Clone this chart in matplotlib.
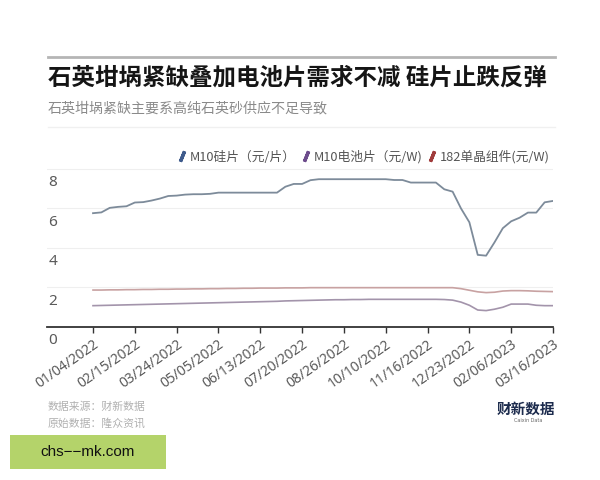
#!/usr/local/bin/python3
# coding: utf-8

#--- モジュールのインポート ---#
import matplotlib
matplotlib.use('Agg')
import matplotlib.pyplot as plt
from matplotlib.lines import Line2D
from matplotlib.patches import Rectangle
import numpy as np

#--- データ (周次, 2022/01/04 - 2023/03/16) ---#
tickLabels = ['01/04/2022', '02/15/2022', '03/24/2022', '05/05/2022', '06/13/2022',
              '07/20/2022', '08/26/2022', '10/10/2022', '11/16/2022', '12/23/2022',
              '02/06/2023', '03/16/2023']

# M10硅片 (元/片)
wafer = [5.76, 5.80, 6.03, 6.08, 6.11, 6.30, 6.32, 6.40, 6.50, 6.63, 6.65, 6.70, 6.72, 6.72,
         6.74, 6.80, 6.80, 6.80, 6.80, 6.80, 6.80, 6.80, 6.80, 7.10, 7.24, 7.24, 7.43, 7.48,
         7.48, 7.48, 7.48, 7.48, 7.48, 7.48, 7.48, 7.48, 7.44, 7.44, 7.31, 7.31, 7.31, 7.31,
         6.97, 6.85, 6.00, 5.30, 3.65, 3.61, 4.28, 5.00, 5.35, 5.53, 5.79, 5.79, 6.31, 6.38]

# M10电池片 (元/W)
cell = [1.08, 1.09, 1.10, 1.11, 1.12, 1.13, 1.14, 1.15, 1.16, 1.17, 1.18, 1.19, 1.20, 1.21,
        1.22, 1.23, 1.24, 1.25, 1.26, 1.27, 1.28, 1.29, 1.30, 1.32, 1.33, 1.34, 1.35, 1.36,
        1.37, 1.38, 1.38, 1.39, 1.39, 1.40, 1.40, 1.40, 1.40, 1.40, 1.40, 1.40, 1.40, 1.40,
        1.39, 1.36, 1.26, 1.10, 0.86, 0.83, 0.90, 1.00, 1.16, 1.16, 1.16, 1.10, 1.08, 1.08]

# 182单晶组件 (元/W)
module = [1.87, 1.87, 1.88, 1.88, 1.89, 1.89, 1.90, 1.90, 1.91, 1.91, 1.92, 1.92, 1.93, 1.93,
          1.94, 1.94, 1.95, 1.95, 1.96, 1.96, 1.97, 1.97, 1.97, 1.98, 1.98, 1.98, 1.99, 1.99,
          1.99, 1.99, 1.99, 1.99, 1.99, 1.99, 1.99, 1.99, 1.99, 1.99, 1.99, 1.99, 1.99, 1.99,
          1.99, 1.99, 1.94, 1.86, 1.78, 1.74, 1.76, 1.82, 1.84, 1.84, 1.83, 1.81, 1.80, 1.79]

seriesNames = ['M10硅片（元/片）', 'M10电池片（元/W)', '182单晶组件(元/W)']
yTicks = [0, 2, 4, 6, 8]


def main():

    #--- rcParams設定 ---#
    plt.rcParams['font.family'] = ['Noto Sans CJK SC', 'DejaVu Sans']
    plt.rcParams['axes.axisbelow'] = True

    fig = plt.figure(figsize=(6, 4.8), dpi=100)
    ax = fig.add_axes([47 / 600, 1 - 327 / 480, 506 / 600, 164 / 480])

    x = np.arange(len(wafer))
    lineColors = ['#7d8b9a', '#a394ab', '#c8a2a2']
    handleColors = ['#3f5b8c', '#6d4c8c', '#a03c3c']

    #--- グラフの描画 ---#
    ax.plot(x, module, color=lineColors[2], linewidth=1.2)
    ax.plot(x, cell, color=lineColors[1], linewidth=1.2)
    ax.plot(x, wafer, color=lineColors[0], linewidth=1.3)

    #--- 軸設定 ---#
    step = (len(wafer) - 1) / (len(tickLabels) - 1)
    tickPos = [i * step for i in range(len(tickLabels))]
    ax.set_xlim(-5.5, len(wafer) - 1)
    ax.set_ylim(0, 8.3)

    for s in ['top', 'right', 'left']:
        ax.spines[s].set_visible(False)
    ax.spines['bottom'].set_color('#333333')
    ax.spines['bottom'].set_linewidth(1.3)

    ax.set_xticks(tickPos)
    ax.set_xticklabels(tickLabels, rotation=35, ha='right', rotation_mode='anchor',
                       fontsize=10, color='#5a5a5a', family=['Noto Sans', 'DejaVu Sans'])
    ax.tick_params(axis='x', direction='out', length=4, width=1, color='#333333', pad=3)

    ax.set_yticks(yTicks)
    ax.set_yticklabels([])
    ax.tick_params(axis='y', length=0)
    ax.grid(axis='y', color='#efefef', linewidth=0.8)

    # Y軸ラベル (グリッド線の下)
    for v in yTicks:
        ax.annotate(str(v), xy=(0, v), xycoords=ax.get_yaxis_transform(),
                    xytext=(1, -10), textcoords='offset points',
                    ha='left', va='center', fontsize=11, color='#5a5a5a',
                    family=['Noto Sans', 'DejaVu Sans'])

    #--- 凡例 ---#
    handles = [Line2D([], [], linestyle='none', marker=(2, 2, -22), markersize=8,
                      markeredgewidth=2.4, color=c) for c in handleColors]
    fig.legend(handles, seriesNames, loc='center right', bbox_to_anchor=(555 / 600, 1 - 157 / 480),
               ncol=3, frameon=False, fontsize=9.2, handlelength=0.6, handletextpad=0.3,
               columnspacing=0.5, labelcolor='#555555', borderaxespad=0)

    #--- タイトル等 ---#
    fig.add_artist(Line2D([48 / 600, 555 / 600], [1 - 57 / 480] * 2, color='#b5b5b5', linewidth=2))
    fig.add_artist(Line2D([48 / 600, 555 / 600], [1 - 127 / 480] * 2, color='#f0f0f0', linewidth=1))
    fig.text(48 / 600, 1 - 78 / 480, '石英坩埚紧缺叠加电池片需求不减 硅片止跌反弹',
             fontsize=16.9, fontweight='bold', color='#151515', va='center', ha='left')
    fig.text(48 / 600, 1 - 108 / 480, '石英坩埚紧缺主要系高纯石英砂供应不足导致',
             fontsize=10.1, color='#8a8a8a', va='center', ha='left')

    fig.text(48 / 600, 1 - 407 / 480, '数据来源：财新数据', fontsize=7.8, color='#b0b0b0', va='center')
    fig.text(48 / 600, 1 - 424 / 480, '原始数据：隆众资讯', fontsize=7.8, color='#b0b0b0', va='center')

    # ロゴ
    fig.text(555 / 600, 1 - 409 / 480, '财新数据', fontsize=10.5, fontweight='bold', color='#1c2b4d',
             ha='right', va='center')
    fig.text(528 / 600, 1 - 420 / 480, 'Caixin Data', fontsize=3.5, color='#666666',
             ha='center', va='center', family=['DejaVu Sans'])

    # 透かしボックス
    fig.add_artist(Rectangle((10 / 600, 1 - 469 / 480), 156 / 600, 34 / 480,
                             transform=fig.transFigure, facecolor='#b4d36a', edgecolor='none'))
    fig.text(88 / 600, 1 - 452 / 480, 'chs\u2212\u2212mk.com', fontsize=11, color='#111111',
             ha='center', va='center', family=['Liberation Sans', 'DejaVu Sans'])

    fig.savefig('out.png', dpi=100)


if __name__ == "__main__":
    main()
